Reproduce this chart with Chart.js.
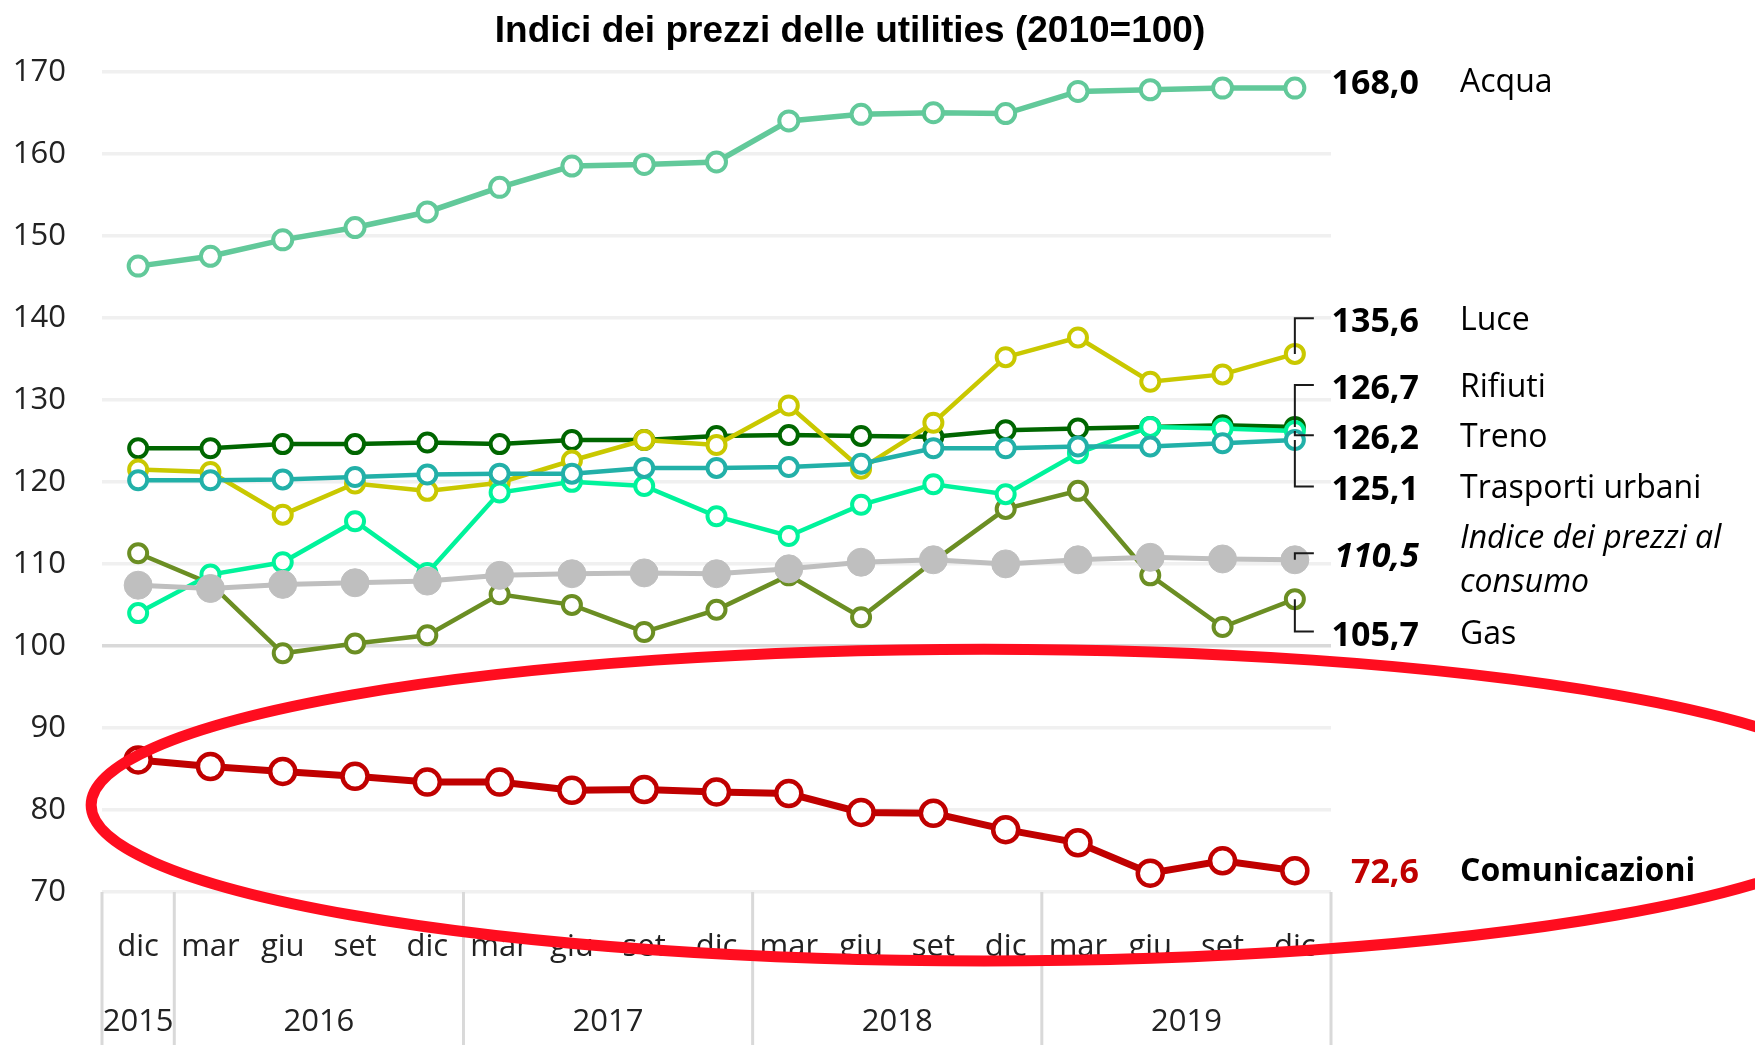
<!DOCTYPE html>
<html lang="it">
<head>
<meta charset="utf-8">
<title>Indici dei prezzi delle utilities</title>
<script src="https://cdn.jsdelivr.net/npm/chart.js@4.4.0/dist/chart.umd.min.js"></script>
<style>
  html, body { margin: 0; padding: 0; background: #fff; }
  #wrap { width: 1755px; height: 1045px; position: relative; }
</style>
</head>
<body>
<div id="wrap"><canvas id="chart1"></canvas></div>
<script>
// quarterly categories, two-level axis (month / year)
const months = ['dic', 'mar', 'giu', 'set', 'dic', 'mar', 'giu', 'set', 'dic',
                'mar', 'giu', 'set', 'dic', 'mar', 'giu', 'set', 'dic'];
const years = ['2015', '2016', '2017', '2018', '2019'];
const yearSpans = [1, 4, 4, 4, 4];
const yTicks = [70, 80, 90, 100, 110, 120, 130, 140, 150, 160, 170];

// index values (2010=100)
const acqua = [146.3, 147.5, 149.5, 151.0, 152.9, 155.9, 158.5, 158.7, 159.0, 164.0, 164.8, 165.0, 164.9, 167.6, 167.8, 168.0, 168.0];
const luce = [121.5, 121.2, 116.0, 119.8, 118.9, 119.9, 122.6, 125.1, 124.5, 129.3, 121.6, 127.2, 135.2, 137.6, 132.2, 133.1, 135.6];
const rifiuti = [124.1, 124.1, 124.6, 124.6, 124.8, 124.6, 125.1, 125.1, 125.6, 125.7, 125.6, 125.5, 126.3, 126.5, 126.7, 126.9, 126.7];
const treno = [104.0, 108.7, 110.2, 115.2, 108.9, 118.7, 120.0, 119.5, 115.8, 113.4, 117.2, 119.7, 118.5, 123.5, 126.7, 126.5, 126.2];
const trasporti = [120.2, 120.2, 120.3, 120.6, 120.9, 121.0, 121.0, 121.7, 121.7, 121.8, 122.2, 124.1, 124.1, 124.3, 124.3, 124.7, 125.1];
const ipc = [107.4, 107.0, 107.5, 107.7, 107.9, 108.6, 108.8, 108.9, 108.8, 109.4, 110.2, 110.5, 110.0, 110.5, 110.8, 110.6, 110.5];
const gas = [111.3, 107.6, 99.1, 100.3, 101.3, 106.3, 105.0, 101.7, 104.4, 108.6, 103.5, 110.3, 116.7, 118.9, 108.6, 102.3, 105.7];
const comunicazioni = [86.1, 85.3, 84.7, 84.1, 83.4, 83.4, 82.4, 82.5, 82.2, 82.0, 79.7, 79.6, 77.6, 76.0, 72.3, 73.8, 72.6];

const titleText = 'Indici dei prezzi delle utilities (2010=100)';
const FONT = '"Open Sans", "Noto Sans", sans-serif';

function serie(label, data, color, extra) {
  return Object.assign({
    label: label,
    data: data,
    borderColor: color,
    borderWidth: 4.5,
    pointRadius: 9,
    pointBorderWidth: 4,
    pointBorderColor: color,
    pointBackgroundColor: '#fff',
    tension: 0,
    clip: false
  }, extra);
}

// first dataset is drawn on top
const datasets = [
  serie('Comunicazioni', comunicazioni, '#c00000', {
    borderWidth: 7, pointRadius: 12.5, pointBorderWidth: 4.5,
    tag: { at: 72.6, names: ['Comunicazioni'], bold: true, valueColor: '#c00000' }
  }),
  serie('Acqua', acqua, '#62c99a', {
    borderWidth: 5.5, pointRadius: 9.5,
    tag: { at: 168.7, names: ['Acqua'] }
  }),
  serie('Trasporti urbani', trasporti, '#22b0a8', {
    tag: { at: 119.2, names: ['Trasporti urbani'], lead: true }
  }),
  serie('Indice dei prezzi al consumo', ipc, '#bfbfbf', {
    borderWidth: 5, pointRadius: 14, pointBorderWidth: 1, pointBackgroundColor: '#bfbfbf',
    tag: { at: 111.05, names: ['Indice dei prezzi al', 'consumo'], italic: true, lead: true }
  }),
  serie('Treno', treno, '#00f39b', {
    tag: { at: 125.45, names: ['Treno'], lead: true }
  }),
  serie('Gas', gas, '#6b8e23', {
    tag: { at: 101.5, names: ['Gas'], lead: true }
  }),
  serie('Luce', luce, '#c9c800', {
    tag: { at: 139.7, names: ['Luce'], lead: true }
  }),
  serie('Rifiuti', rifiuti, '#006600', {
    tag: { at: 131.55, names: ['Rifiuti'], lead: true }
  })
];

const decor = {
  id: 'decor',
  afterDatasetsDraw(chart) {
    const { ctx, scales: { x, y } } = chart;
    const n = months.length;
    const half = (x.getPixelForValue(1) - x.getPixelForValue(0)) / 2;
    ctx.save();

    // year separators below the plot
    ctx.strokeStyle = '#d9d9d9';
    ctx.lineWidth = 3;
    const edges = [x.getPixelForValue(0) - half];
    let k = 0;
    yearSpans.forEach(c => { k += c; edges.push(x.getPixelForValue(k - 1) + half); });
    edges.forEach(ex => {
      ctx.beginPath();
      ctx.moveTo(ex, y.bottom);
      ctx.lineTo(ex, chart.height);
      ctx.stroke();
    });

    // year labels centred on their group
    ctx.fillStyle = '#222';
    ctx.font = '31px ' + FONT;
    ctx.textAlign = 'center';
    ctx.textBaseline = 'alphabetic';
    k = 0;
    years.forEach((yr, j) => {
      const a = k, b = k + yearSpans[j] - 1;
      ctx.fillText(yr, (x.getPixelForValue(a) + x.getPixelForValue(b)) / 2, y.bottom + 139);
      k += yearSpans[j];
    });

    // end labels with leader lines
    chart.data.datasets.forEach((ds, i) => {
      const t = ds.tag;
      if (!t) return;
      const pt = chart.getDatasetMeta(i).data[n - 1];
      const ty = y.getPixelForValue(t.at);
      if (t.lead) {
        ctx.strokeStyle = '#1a1a1a';
        ctx.lineWidth = 2;
        ctx.beginPath();
        ctx.moveTo(pt.x, pt.y);
        ctx.lineTo(pt.x, ty - 2);
        ctx.lineTo(pt.x + 19, ty - 2);
        ctx.stroke();
      }
      const val = ds.data[n - 1].toFixed(1).replace('.', ',');
      ctx.textAlign = 'right';
      ctx.font = (t.italic ? 'italic ' : '') + 'bold 34px ' + FONT;
      ctx.fillStyle = t.valueColor || '#000';
      ctx.fillText(val, x.right + 88, ty + 12);

      ctx.textAlign = 'left';
      ctx.font = (t.italic ? 'italic ' : '') + (t.bold ? 'bold ' : '') + '32px ' + FONT;
      ctx.fillStyle = '#000';
      const m = t.names.length;
      t.names.forEach((ln, j) => {
        const off = (j - (m - 1) / 2) * 44 + (m > 1 ? 5 : 0);
        ctx.fillText(ln, x.right + 129, ty + 10 + off);
      });
    });
    ctx.restore();
  },
  afterDraw(chart) {
    const { ctx, scales: { x, y } } = chart;
    const step = x.getPixelForValue(1) - x.getPixelForValue(0);
    ctx.save();
    // title
    ctx.fillStyle = '#000';
    ctx.font = 'bold 37px "Liberation Sans", Arial, sans-serif';
    ctx.textAlign = 'center';
    ctx.textBaseline = 'alphabetic';
    ctx.fillText(titleText, 850, 42);

    // red highlight ellipse around the Comunicazioni series
    ctx.strokeStyle = '#ff0d1f';
    ctx.lineWidth = 11;
    ctx.beginPath();
    const cx = x.getPixelForValue(0) + 11.7 * step;
    const cy = y.getPixelForValue(80.6);
    ctx.ellipse(cx, cy, 12.35 * step, y.getPixelForValue(70) - y.getPixelForValue(89), 0, 0, Math.PI * 2);
    ctx.stroke();
    ctx.restore();
  }
};

const ctx = document.getElementById('chart1').getContext('2d');
new Chart(ctx, {
  type: 'line',
  data: { labels: months, datasets: datasets },
  options: {
    responsive: true,
    maintainAspectRatio: false,
    animation: false,
    layout: { padding: { top: 71.7, right: 424, left: 0, bottom: 0 } },
    plugins: {
      legend: { display: false },
      tooltip: { enabled: false },
      title: { display: false }
    },
    scales: {
      x: {
        offset: true,
        afterFit(s) { s.height = 153; },
        border: { display: false },
        grid: { display: false, drawTicks: false },
        ticks: {
          autoSkip: false,
          maxRotation: 0,
          padding: 37,
          color: '#222',
          font: { family: FONT, size: 31 }
        }
      },
      y: {
        min: 70,
        max: 170,
        afterBuildTicks(s) { s.ticks = yTicks.map(v => ({ value: v })); },
        afterFit(s) { s.width = 102; },
        border: { display: false },
        grid: {
          color: c => (c.tick && c.tick.value === 100) ? '#d9d9d9' : '#f0f0f0',
          lineWidth: 3.5,
          drawTicks: false
        },
        ticks: {
          padding: 36,
          color: '#222',
          font: { family: FONT, size: 31 }
        }
      }
    }
  },
  plugins: [decor]
});
</script>
</body>
</html>
